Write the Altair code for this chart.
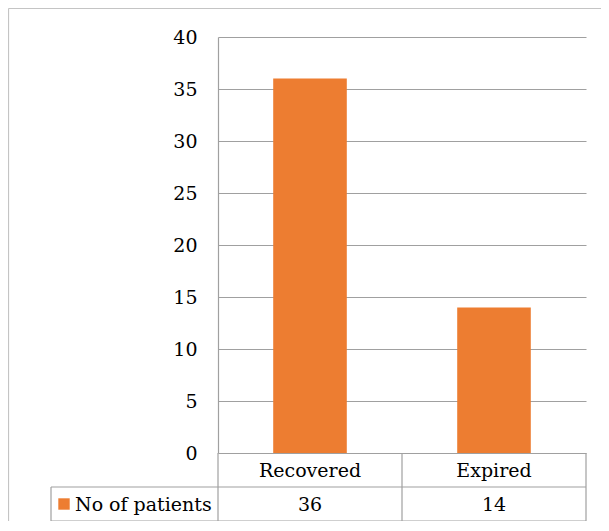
import altair as alt
import pandas as pd

categories = ["Recovered", "Expired"]
values = [36, 14]
series_name = "No of patients"
y_ticks = [0, 5, 10, 15, 20, 25, 30, 35, 40]

ORANGE = "#ED7D31"
GRID = "#a0a0a0"
BORDER = "#c4c4c4"
FONT = "DejaVu Serif"
FS = 19

df = pd.DataFrame({"category": categories, "value": values})
one = pd.DataFrame({"a": [0]})

W, H = 368, 484      # plot area (includes the data table below the axis)
YR = 416             # pixel height of the value range 0..40

xenc = alt.X("category:N", sort=categories,
             scale=alt.Scale(paddingInner=0.6, paddingOuter=0.3), axis=None)

bars = alt.Chart(df).mark_bar(color=ORANGE).encode(
    x=xenc,
    y=alt.Y("value:Q",
            scale=alt.Scale(domain=[0, 40], range=[YR, 0], nice=False),
            axis=alt.Axis(values=y_ticks, grid=True, ticks=False, title=None,
                          labelFont=FONT, labelFontSize=FS, labelColor="black",
                          labelPadding=21, domainColor=GRID, gridColor=GRID,
                          domainWidth=1.2, gridWidth=1.2)),
)

cat_text = alt.Chart(df).mark_text(font=FONT, fontSize=FS, color="black",
                                   baseline="middle").encode(
    x=xenc, y=alt.value(YR + 18), text="category:N")

val_text = alt.Chart(df).mark_text(font=FONT, fontSize=FS, color="black",
                                   baseline="middle").encode(
    x=xenc, y=alt.value(YR + 52), text="value:Q")


def hrule(x1, x2, y, color=GRID):
    return alt.Chart(one).mark_rule(color=color, strokeWidth=1.2).encode(
        x=alt.value(x1), x2=alt.value(x2), y=alt.value(y))


def vrule(x, y1, y2, color=GRID):
    return alt.Chart(one).mark_rule(color=color, strokeWidth=1.2).encode(
        x=alt.value(x), y=alt.value(y1), y2=alt.value(y2))


table_lines = [
    hrule(-167, W, YR + 34),
    hrule(-167, W, H),
    vrule(0, YR, H),
    vrule(184, YR, H),
    vrule(W, YR, H),
    vrule(-167, YR + 34, H),
    hrule(-209.5, W + 30, -28.5, BORDER),
    vrule(-209.5, -28.5, H + 10, BORDER),
]

legend_sq = alt.Chart(one).mark_square(color=ORANGE, size=130, opacity=1).encode(
    x=alt.value(-154), y=alt.value(YR + 51))
legend_txt = alt.Chart(pd.DataFrame({"s": [series_name]})).mark_text(
    font=FONT, fontSize=FS, color="black", align="left", baseline="middle").encode(
    x=alt.value(-143), y=alt.value(YR + 52), text="s:N")

chart = alt.layer(bars, cat_text, val_text, *table_lines, legend_sq, legend_txt).properties(
    width=W, height=H,
    padding={"left": 210, "top": 29, "right": 15, "bottom": 0},
    autosize=alt.AutoSizeParams(type="none"),
).configure_view(stroke=None)

chart.save("out.html", embed_options={"renderer": "svg", "actions": False})
